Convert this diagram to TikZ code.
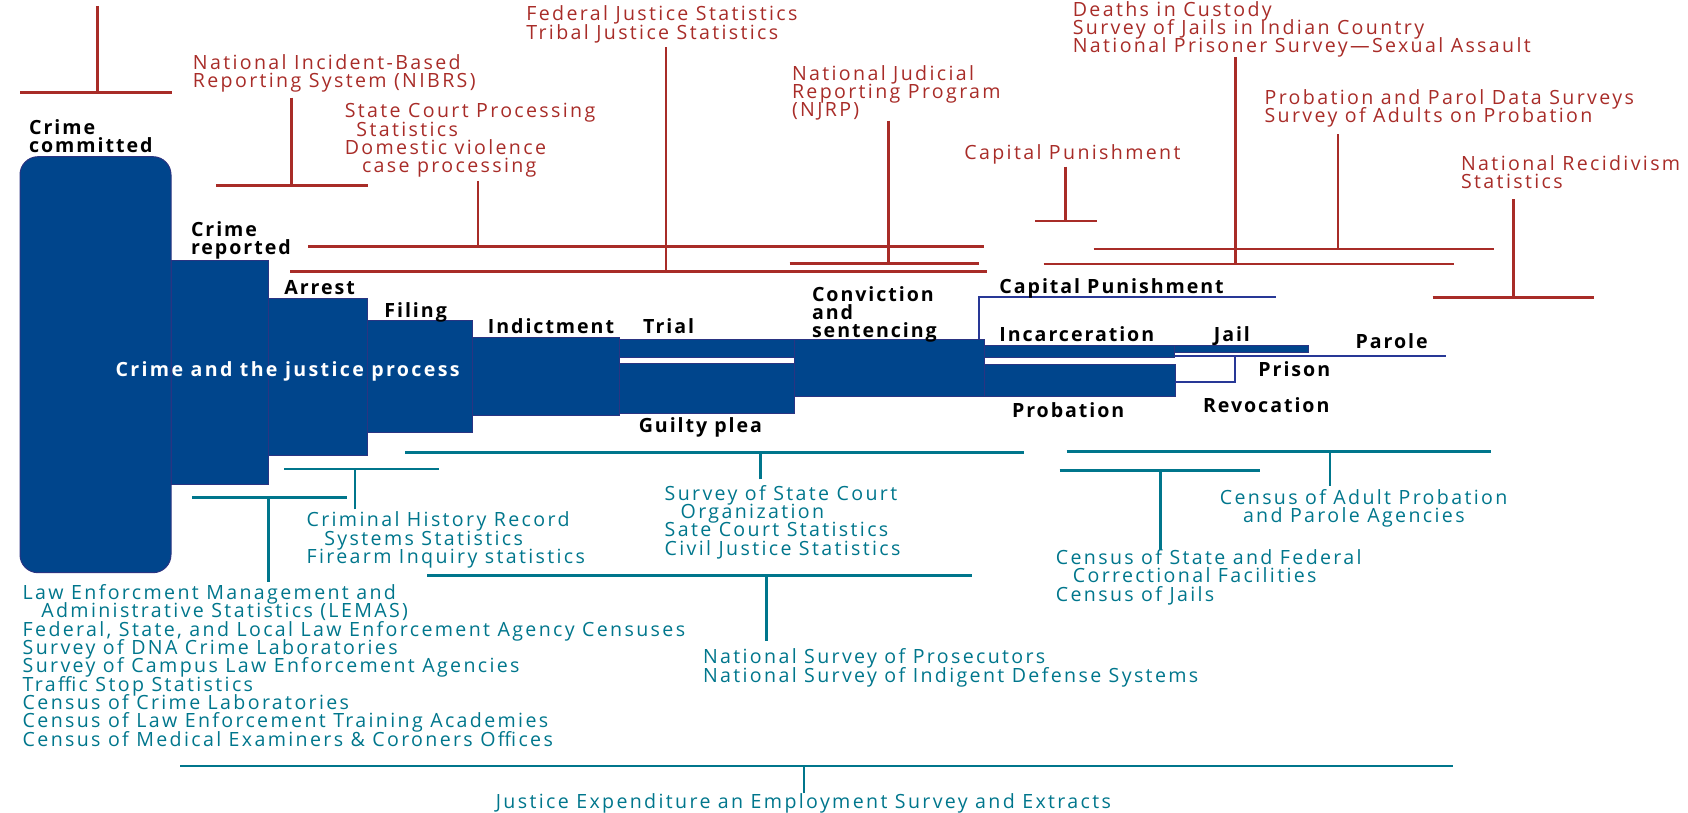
\documentclass[tikz,border=0pt]{standalone}
\usepackage{xcolor}
\usepackage{fontspec}
\usepackage{tikz}
\usetikzlibrary{calc}
\usetikzlibrary{positioning}
\newfontfamily\lblfont[LetterSpace=12]{Open Sans}
\newfontfamily\stgfont[LetterSpace=10]{Open Sans}
\newcommand\tightlines{\fontsize{9.8}{9.15}\selectfont\lineskiplimit=-\maxdimen}
\definecolor{bjsred}{RGB}{168,44,40}
\definecolor{bjsteal}{RGB}{0,118,140}
\definecolor{bjsblue}{RGB}{0,69,140}
\definecolor{bjsedge}{RGB}{42,52,130}
\definecolor{bjsline}{RGB}{40,56,150}
% base of a label = baseline of its last line
\tikzstyle{redlbl} = [anchor=base west, inner sep=0, align=left, text=bjsred, font=\lblfont\tightlines]
\tikzstyle{teallbl} = [anchor=base west, inner sep=0, align=left, text=bjsteal, font=\lblfont\tightlines]
\tikzstyle{stage} = [anchor=base west, inner sep=0, align=left, font=\stgfont\bfseries\tightlines]
\tikzstyle{redbar} = [draw=bjsred, line width=1.3pt]
\tikzstyle{tealbar} = [draw=bjsteal, line width=1.3pt]
\tikzstyle{block} = [fill=bjsblue, draw=bjsedge, line width=0.5pt]
\tikzstyle{thin} = [draw=bjsline, line width=1pt]

\begin{document}
\begin{tikzpicture}[x=0.5pt, y=-0.5pt]
\useasboundingbox (0,0) rectangle (1688,813);
% the justice process
\filldraw [block, rounded corners=9pt] (20,156.7) rectangle (171,572.7);
\filldraw [block] (171,260) rectangle (268,484.3);
\filldraw [block] (268,298.3) rectangle (367,455);
\filldraw [block] (367,320) rectangle (472.3,432.3);
\filldraw [block] (472.3,337.3) rectangle (619.2,415);
\filldraw [block] (619.2,339.3) rectangle (794,357.3);
\filldraw [block] (619.2,363.3) rectangle (794,413.3);
\filldraw [block] (794,339.3) rectangle (984,396.7);
\filldraw [block] (984,345.7) rectangle (1174.5,357.3);
\filldraw [block] (984,364.3) rectangle (1175,396.7);
\filldraw [block] (1174.5,345.7) rectangle (1308.5,352.7);
\coordinate (cpfoot) at (979,339.3);
\coordinate (cpend) at (1276.4,297);
\coordinate (parstart) at (1174.5,356);
\coordinate (parend) at (1446,356);
\coordinate (prisstart) at (1175,381.7);
\coordinate (prisend) at (1234.5,356);
\draw [thin] (cpfoot) |- (cpend);
\draw [thin] (parstart) -- (parend);
\draw [thin] (prisstart) -| (prisend);

\node [stage] (committed) at (28.7,152.7) {Crime\\committed};
\node [stage] (reported) at (190.6,254.3) {Crime\\reported};
\node [stage] (arrest) at (284,294.3) {Arrest};
\node [stage] (filing) at (384,317.7) {Filing};
\node [stage] (indict) at (487.5,333.3) {Indictment};
\node [stage] (trial) at (642.8,333.3) {Trial};
\node [stage] (plea) at (638.4,432.7) {Guilty plea};
\node [stage] (convict) at (811.6,337.7) {Conviction\\and\\sentencing};
\node [stage] (capital) at (999,293.3) {Capital Punishment};
\node [stage] (incarc) at (999,341) {Incarceration};
\node [stage] (jail) at (1213.4,341) {Jail};
\node [stage] (parole) at (1355.2,348.7) {Parole};
\node [stage] (prison) at (1258,376.7) {Prison};
\node [stage] (revoc) at (1202.6,412.7) {Revocation};
\node [stage] (probat) at (1011.6,417) {Probation};
\node [stage, text=white, font=\lblfont\bfseries\tightlines] (process) at (115.2,376) {Crime and the justice process};

% statistical programs above the line
\node [redlbl] (nibrs) at (192.5,87.7) {National Incident-Based\\Reporting System (NIBRS)};
\node [redlbl] (scps) at (344.4,172.7) {State Court Processing\\\hspace*{5.8pt}Statistics\\Domestic violence\\\hspace*{8.6pt}case processing};
\node [redlbl] (fjs) at (526,39.3) {Federal Justice Statistics\\Tribal Justice Statistics};
\node [redlbl] (njrp) at (791.6,117) {National Judicial\\Reporting Program\\(NJRP)};
\node [redlbl] (cpstat) at (964,160) {Capital Punishment};
\node [redlbl] (custody) at (1072.4,52.7) {Deaths in Custody\\Survey of Jails in Indian Country\\National Prisoner Survey—Sexual Assault};
\node [redlbl] (ppds) at (1264.2,122.7) {Probation and Parol Data Surveys\\Survey of Adults on Probation};
\node [redlbl] (nrs) at (1460.7,188.7) {National Recidivism\\Statistics};

\coordinate (top-t) at (97.6,6);      \coordinate (top-f) at (97.6,92.7);
\coordinate (top-l) at (20,92.7);     \coordinate (top-r) at (172,92.7);
\coordinate (nibrs-t) at (291.6,97.7); \coordinate (nibrs-f) at (291.6,185.3);
\coordinate (nibrs-l) at (216,185.3);  \coordinate (nibrs-r) at (368,185.3);
\coordinate (scps-t) at (478,181);     \coordinate (scps-f) at (478,246.7);
\coordinate (scps-l) at (308,246.7);   \coordinate (scps-r) at (984,246.7);
\coordinate (fjs-t) at (666,47.3);     \coordinate (fjs-f) at (666,271.3);
\coordinate (fjs-l) at (290,271.3);    \coordinate (fjs-r) at (987,271.3);
\coordinate (njrp-t) at (888.4,120.7); \coordinate (njrp-f) at (888.4,263.3);
\coordinate (njrp-l) at (789.7,263.3); \coordinate (njrp-r) at (978.5,263.3);
\coordinate (cp-t) at (1065.5,166.7);  \coordinate (cp-f) at (1065.5,221);
\coordinate (cp-l) at (1035,221);      \coordinate (cp-r) at (1097,221);
\coordinate (cust-t) at (1235.6,57.3); \coordinate (cust-f) at (1235.6,264);
\coordinate (cust-l) at (1043.5,264);  \coordinate (cust-r) at (1454.2,264);
\coordinate (ppds-t) at (1338,134.3);  \coordinate (ppds-f) at (1338,249);
\coordinate (ppds-l) at (1093.5,249);  \coordinate (ppds-r) at (1493.6,249);
\coordinate (nrs-t) at (1513.5,199.3); \coordinate (nrs-f) at (1513.5,297.3);
\coordinate (nrs-l) at (1432.5,297.3); \coordinate (nrs-r) at (1593.5,297.3);
\foreach \s in {top, nibrs, scps, fjs, njrp, cp, cust, ppds, nrs} {
  \draw [redbar] (\s-l) -- (\s-r);
  \draw [redbar] (\s-t) -- (\s-f);
}

% statistical programs below the line
\node [teallbl] (lemas) at (22.3,746) {Law Enforcment Management and\\\hspace*{9.3pt}Administrative Statistics (LEMAS)\\Federal, State, and Local Law Enforcement Agency Censuses\\Survey of DNA Crime Laboratories\\Survey of Campus Law Enforcement Agencies\\Traffic Stop Statistics\\Census of Crime Laboratories\\Census of Law Enforcement Training Academies\\Census of Medical Examiners \& Coroners Offices};
\node [teallbl] (chrs) at (306.2,563.3) {Criminal History Record\\\hspace*{8.9pt}Systems Statistics\\Firearm Inquiry statistics};
\node [teallbl] (sscs) at (664.3,555) {Survey of State Court\\\hspace*{8pt}Organization\\Sate Court Statistics\\Civil Justice Statistics};
\node [teallbl] (nsp) at (702.6,682) {National Survey of Prosecutors\\National Survey of Indigent Defense Systems};
\node [teallbl] (csfcf) at (1055.5,601) {Census of State and Federal\\\hspace*{8.5pt}Correctional Facilities\\Census of Jails};
\node [teallbl] (capa) at (1219.4,522.7) {Census of Adult Probation\\\hspace*{11.6pt}and Parole Agencies};
\node [teallbl] (jees) at (495.5,808) {Justice Expenditure an Employment Survey and Extracts};

\coordinate (lemas-t) at (268.3,581.7); \coordinate (lemas-f) at (268.3,497.3);
\coordinate (lemas-l) at (192,497.3);   \coordinate (lemas-r) at (347.3,497.3);
\coordinate (chrs-t) at (355,509.3);    \coordinate (chrs-f) at (355,469);
\coordinate (chrs-l) at (284,469);      \coordinate (chrs-r) at (438.8,469);
\coordinate (sscs-t) at (760.7,479.3);  \coordinate (sscs-f) at (760.7,452.3);
\coordinate (sscs-l) at (405,452.3);    \coordinate (sscs-r) at (1024,452.3);
\coordinate (nsp-t) at (766.5,640.7);   \coordinate (nsp-f) at (766.5,575.3);
\coordinate (nsp-l) at (427.2,575.3);   \coordinate (nsp-r) at (972,575.3);
\coordinate (csf-t) at (1160.3,549.5);  \coordinate (csf-f) at (1160.3,470.7);
\coordinate (csf-l) at (1059.5,470.7);  \coordinate (csf-r) at (1260.3,470.7);
\coordinate (capa-t) at (1330,485.7);   \coordinate (capa-f) at (1330,451.7);
\coordinate (capa-l) at (1066.7,451.7); \coordinate (capa-r) at (1490.5,451.7);
\coordinate (jees-t) at (804,793.3);    \coordinate (jees-f) at (804,766);
\coordinate (jees-l) at (180,766);      \coordinate (jees-r) at (1452.5,766);
\foreach \s in {lemas, chrs, sscs, nsp, csf, capa, jees} {
  \draw [tealbar] (\s-l) -- (\s-r);
  \draw [tealbar] (\s-t) -- (\s-f);
}
\end{tikzpicture}
\end{document}
